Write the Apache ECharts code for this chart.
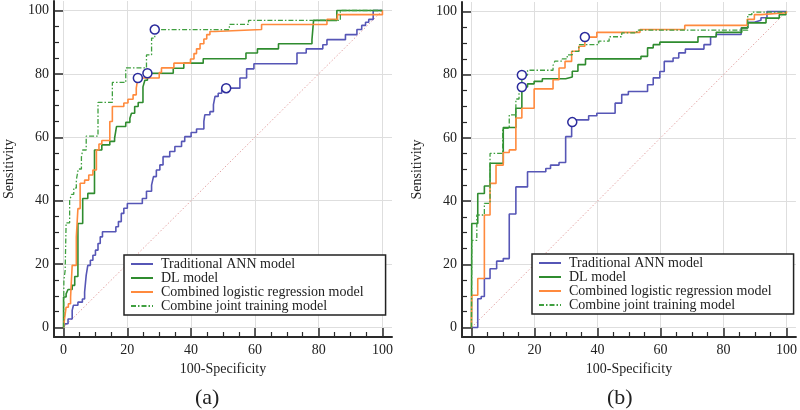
<!DOCTYPE html>
<html>
<head>
<meta charset="utf-8">
<script src="https://cdn.jsdelivr.net/npm/echarts@6/dist/echarts.min.js"></script>
<style>
html,body{margin:0;padding:0;background:#fff;}
#c{width:800px;height:410px;}
</style>
</head>
<body>
<div id="c"></div>
<script>
// ---------- data (x = 100-Specificity, y = Sensitivity); each point = where the ROC step jumps ----------
const NAMES = ['Traditional ANN model', 'DL model', 'Combined logistic regression model', 'Combine joint training model'];
const MAJOR_TICKS = [0, 20, 40, 60, 80, 100];
const DIAG = [[0, 0], [100, 100]];

// panel (a)
const A_ANN = [[0,0],[0.5,1.2],[1.4,2.7],[2.7,5.4],[3.1,7],[4.5,8],[5.9,9],[6.6,11.2],[7.1,16.5],[7.6,19.6],[8.4,21.2],[9.2,22.8],[10,24.4],[10.8,26.5],[11.5,28.6],[12.2,30.2],[16.4,31.8],[17.2,33.4],[18.1,36],[18.9,37.6],[20,39.1],[24.7,40.7],[26,43],[27.6,44.9],[28.2,47.6],[29.1,49.7],[30.2,51.3],[31.2,53.9],[33.3,55.5],[34.9,57.1],[37,58.7],[38,60.2],[40,61.5],[41.7,62.6],[44,65],[44.3,67.1],[45.9,68.1],[47,70.3],[47.5,72.9],[48.5,73.9],[49.6,75.5],[55.3,78.7],[57.4,81.6],[59.7,83.2],[73.2,86.6],[76.1,87.9],[81.3,89.2],[82.6,90.8],[88.4,92.4],[92,94],[93.5,95.3],[94.7,96.3],[95.7,97.2],[97.1,100],[100,100]];
const A_DL = [[0,0],[0,9.6],[0.8,10.6],[1.4,12],[2.7,13.3],[3.5,16.1],[4.5,32.8],[6,40.7],[7.6,42.3],[9.7,56],[12,57.6],[14.5,58.7],[16,59.7],[16.6,63.4],[19.5,64.7],[20.8,66],[21.3,67.6],[22.3,69.7],[23.4,71],[24.9,75.9],[25.5,78],[26.3,80.2],[34.4,81.8],[37.7,83.4],[43.8,84.8],[57.2,86.6],[60.8,87.9],[67.4,89.5],[77.9,90.8],[78.4,96.9],[85.7,100],[100,100]];
const A_LR = [[0,0],[0.3,2.7],[0.8,6.4],[1.5,7.5],[2.2,9.6],[2.7,19.6],[4,28.6],[4.5,37.5],[5.2,45.5],[6.6,46.5],[7.9,48.1],[9.2,49.7],[10.3,56],[11.1,57.9],[12,59],[14.5,65],[15.3,69.7],[18.9,70.8],[20.2,72],[21.8,73.4],[22.8,75.5],[23.3,78.7],[30,80.4],[30.7,81.9],[34.6,83.4],[39.8,84.7],[40.9,86.4],[41.7,87.9],[42.8,89.5],[44,91],[44.9,92.4],[45.9,93.4],[47.5,94],[62.1,95.6],[82.6,97.2],[85.9,98.7],[100,100]];
const A_JOINT = [[0,0],[0.1,14.9],[0.5,18],[0.8,33],[1.9,40],[2.5,42],[3.2,44],[4,46.5],[4.6,50],[5.6,53.8],[6,56],[7.1,60.4],[10.8,71],[15.3,77.3],[19.5,81.9],[26,86],[27.6,91.3],[28.6,94],[52,95.6],[58,96.9],[86.8,100],[100,100]];
const A_CUT = [[51,75.5],[26.3,80.2],[23.3,78.7],[28.6,94]];

// panel (b)
const B_ANN = [[0,0],[2,9.1],[3.1,9.8],[4.1,15.5],[5.9,18.6],[8,21],[10.1,21.8],[12,35.9],[14.1,44.5],[17.8,49.3],[23.6,50.3],[25.1,51.4],[27.8,52.2],[29.9,60.4],[31.8,65],[33,65.7],[37.2,67],[39.8,67.8],[45.6,71],[47.7,73.7],[49.8,74.7],[55.9,76.8],[57.7,79],[59.8,81],[61.2,84.2],[64,85.3],[65.8,86.9],[67.9,88.1],[73.8,89.5],[75.9,92],[77.7,92.7],[85.6,94.8],[87.7,96.6],[89.8,97.2],[91.9,98],[93.8,100],[100,100]];
const B_DL = [[0,0],[0.1,32.9],[2,42.4],[4.1,44.8],[5.9,52],[10.1,63.3],[14.1,69.4],[16,76.1],[17.8,77.1],[19.9,77.9],[22.5,78.7],[29.9,79.3],[32,81.1],[33.8,83.2],[36.2,85],[53.8,85.8],[55.9,88.5],[57.7,89.5],[59.8,90.3],[71.9,92],[77.7,93.4],[85.8,94.8],[87.7,96.4],[93.5,97.9],[97.7,99],[99.8,100],[100,100]];
const B_LR = [[0,0],[0.1,10.2],[2,15.5],[4.1,35.6],[5.9,45.6],[7.8,51.4],[10.1,55.4],[12,56.2],[14.1,66.3],[16,69.4],[19.9,75.5],[25.9,78.4],[27.8,82.1],[29.7,84.2],[31.8,87.4],[34.1,89],[36,91.9],[39.8,93.4],[53.5,94.3],[67.7,95.6],[87.5,97.5],[89.8,99],[91.9,99.6],[100,100]];
const B_JOINT = [[0,0],[0.1,27.6],[1.7,35.6],[4.1,39.3],[5.9,55.1],[9.9,63],[12,67.3],[14.1,72.3],[15.1,75.8],[16,79.9],[17.8,81.4],[25.9,82.9],[26.5,84.3],[28.8,85],[30.4,86.3],[32,87.4],[34.1,89.5],[40.4,90.6],[43.7,92],[47.7,93.2],[52.5,94.1],[87.7,99],[89,99.8],[100,100]];
const B_CUT = [[32,65],[16,76.1],[36,91.9],[16,79.9]];

// ---------- styling / layout ----------
const FONT = 'Liberation Serif';
const COLORS = ['#5656b6', '#2f8c2f', '#ff8a3d', '#3f9f3f'];
const AXIS_COLOR = '#2a2a2a';
const labelStyle = { fontFamily: FONT, fontSize: 14, color: '#222' };

// axis that only draws the light grid lines (kept underneath everything)
function gridAxis(gridIndex, isX) {
  return {
    type: 'value', gridIndex, min: -3, max: 103, splitNumber: 5, position: isX ? 'bottom' : 'left', z: 0,
    axisLine: { show: false, onZero: false },
    axisTick: { show: false, customValues: MAJOR_TICKS },
    axisLabel: { show: false },
    splitLine: { show: true, lineStyle: { color: '#dedede', width: 1 } }
  };
}
// axis that draws the line, ticks, labels and name (drawn on top)
function mainAxis(gridIndex, isX) {
  return {
    type: 'value', gridIndex, min: -3, max: 103, splitNumber: 5, position: isX ? 'bottom' : 'left', z: 10,
    name: isX ? '100-Specificity' : 'Sensitivity', nameLocation: 'middle', nameGap: isX ? 25 : 38,
    nameTextStyle: labelStyle,
    axisLine: { show: true, onZero: false, lineStyle: { color: AXIS_COLOR, width: 2 } },
    axisTick: { show: true, inside: true, length: 9, customValues: MAJOR_TICKS, lineStyle: { color: AXIS_COLOR, width: 1.5 } },
    minorTick: { show: true, splitNumber: 4, length: 5, lineStyle: { color: AXIS_COLOR, width: 1.2 } },
    axisLabel: { customValues: MAJOR_TICKS, margin: isX ? 6 : 5, ...labelStyle },
    splitLine: { show: false },
    minorSplitLine: { show: false }
  };
}

function panelSeries(xi, yi, curves, cuts) {
  const out = [];
  out.push({
    name: 'reference', type: 'line', xAxisIndex: xi, yAxisIndex: yi,
    data: DIAG, symbol: 'none', silent: true, z: 1,
    lineStyle: { color: '#e3a3a3', width: 1, type: [1.5, 2] }
  });
  curves.forEach((d, i) => {
    const isJoint = i === 3;
    out.push({
      name: NAMES[i], type: 'line', xAxisIndex: xi, yAxisIndex: yi,
      data: d, step: 'end', symbol: 'none', z: 2,
      lineStyle: { color: COLORS[i], width: isJoint ? 1.3 : 1.6, type: isJoint ? [5, 2, 1.5, 2] : 'solid' },
      itemStyle: { color: COLORS[i] }
    });
  });
  out.push({
    name: 'cutoff', type: 'scatter', xAxisIndex: xi, yAxisIndex: yi,
    data: cuts, symbol: 'circle', symbolSize: 9, silent: true, z: 3,
    itemStyle: { color: '#ffffff', borderColor: '#2b2b9c', borderWidth: 1.5, opacity: 1 }
  });
  return out;
}

function legend(left, top) {
  return {
    data: NAMES, orient: 'vertical', left, top,
    itemWidth: 22, itemHeight: 14, itemGap: 0,
    padding: [2, 22, 2, 6],
    backgroundColor: '#ffffff', borderColor: '#222', borderWidth: 1.5,
    itemStyle: { color: 'rgba(0,0,0,0)', borderWidth: 0, opacity: 0 },
    textStyle: { fontFamily: FONT, fontSize: 14, color: '#222', padding: [0, 0, 0, 3] },
    selectedMode: false
  };
}

const chart = echarts.init(document.getElementById('c'), null, { renderer: 'canvas' });
chart.setOption({
  animation: false,
  title: [
    { text: '(a)', left: 190, top: 382, textStyle: { fontFamily: FONT, fontSize: 22, fontWeight: 'normal', color: '#222' } },
    { text: '(b)', left: 602, top: 382, textStyle: { fontFamily: FONT, fontSize: 22, fontWeight: 'normal', color: '#222' } }
  ],
  legend: [legend(124, 255), legend(532, 254)],
  grid: [
    { left: 54, top: 1, width: 338, height: 336 },
    { left: 462, top: 2, width: 337, height: 335 }
  ],
  xAxis: [mainAxis(0, true), mainAxis(1, true), gridAxis(0, true), gridAxis(1, true)],
  yAxis: [mainAxis(0, false), mainAxis(1, false), gridAxis(0, false), gridAxis(1, false)],
  series: [
    ...panelSeries(0, 0, [A_ANN, A_DL, A_LR, A_JOINT], A_CUT),
    ...panelSeries(1, 1, [B_ANN, B_DL, B_LR, B_JOINT], B_CUT)
  ]
});
</script>
</body>
</html>
